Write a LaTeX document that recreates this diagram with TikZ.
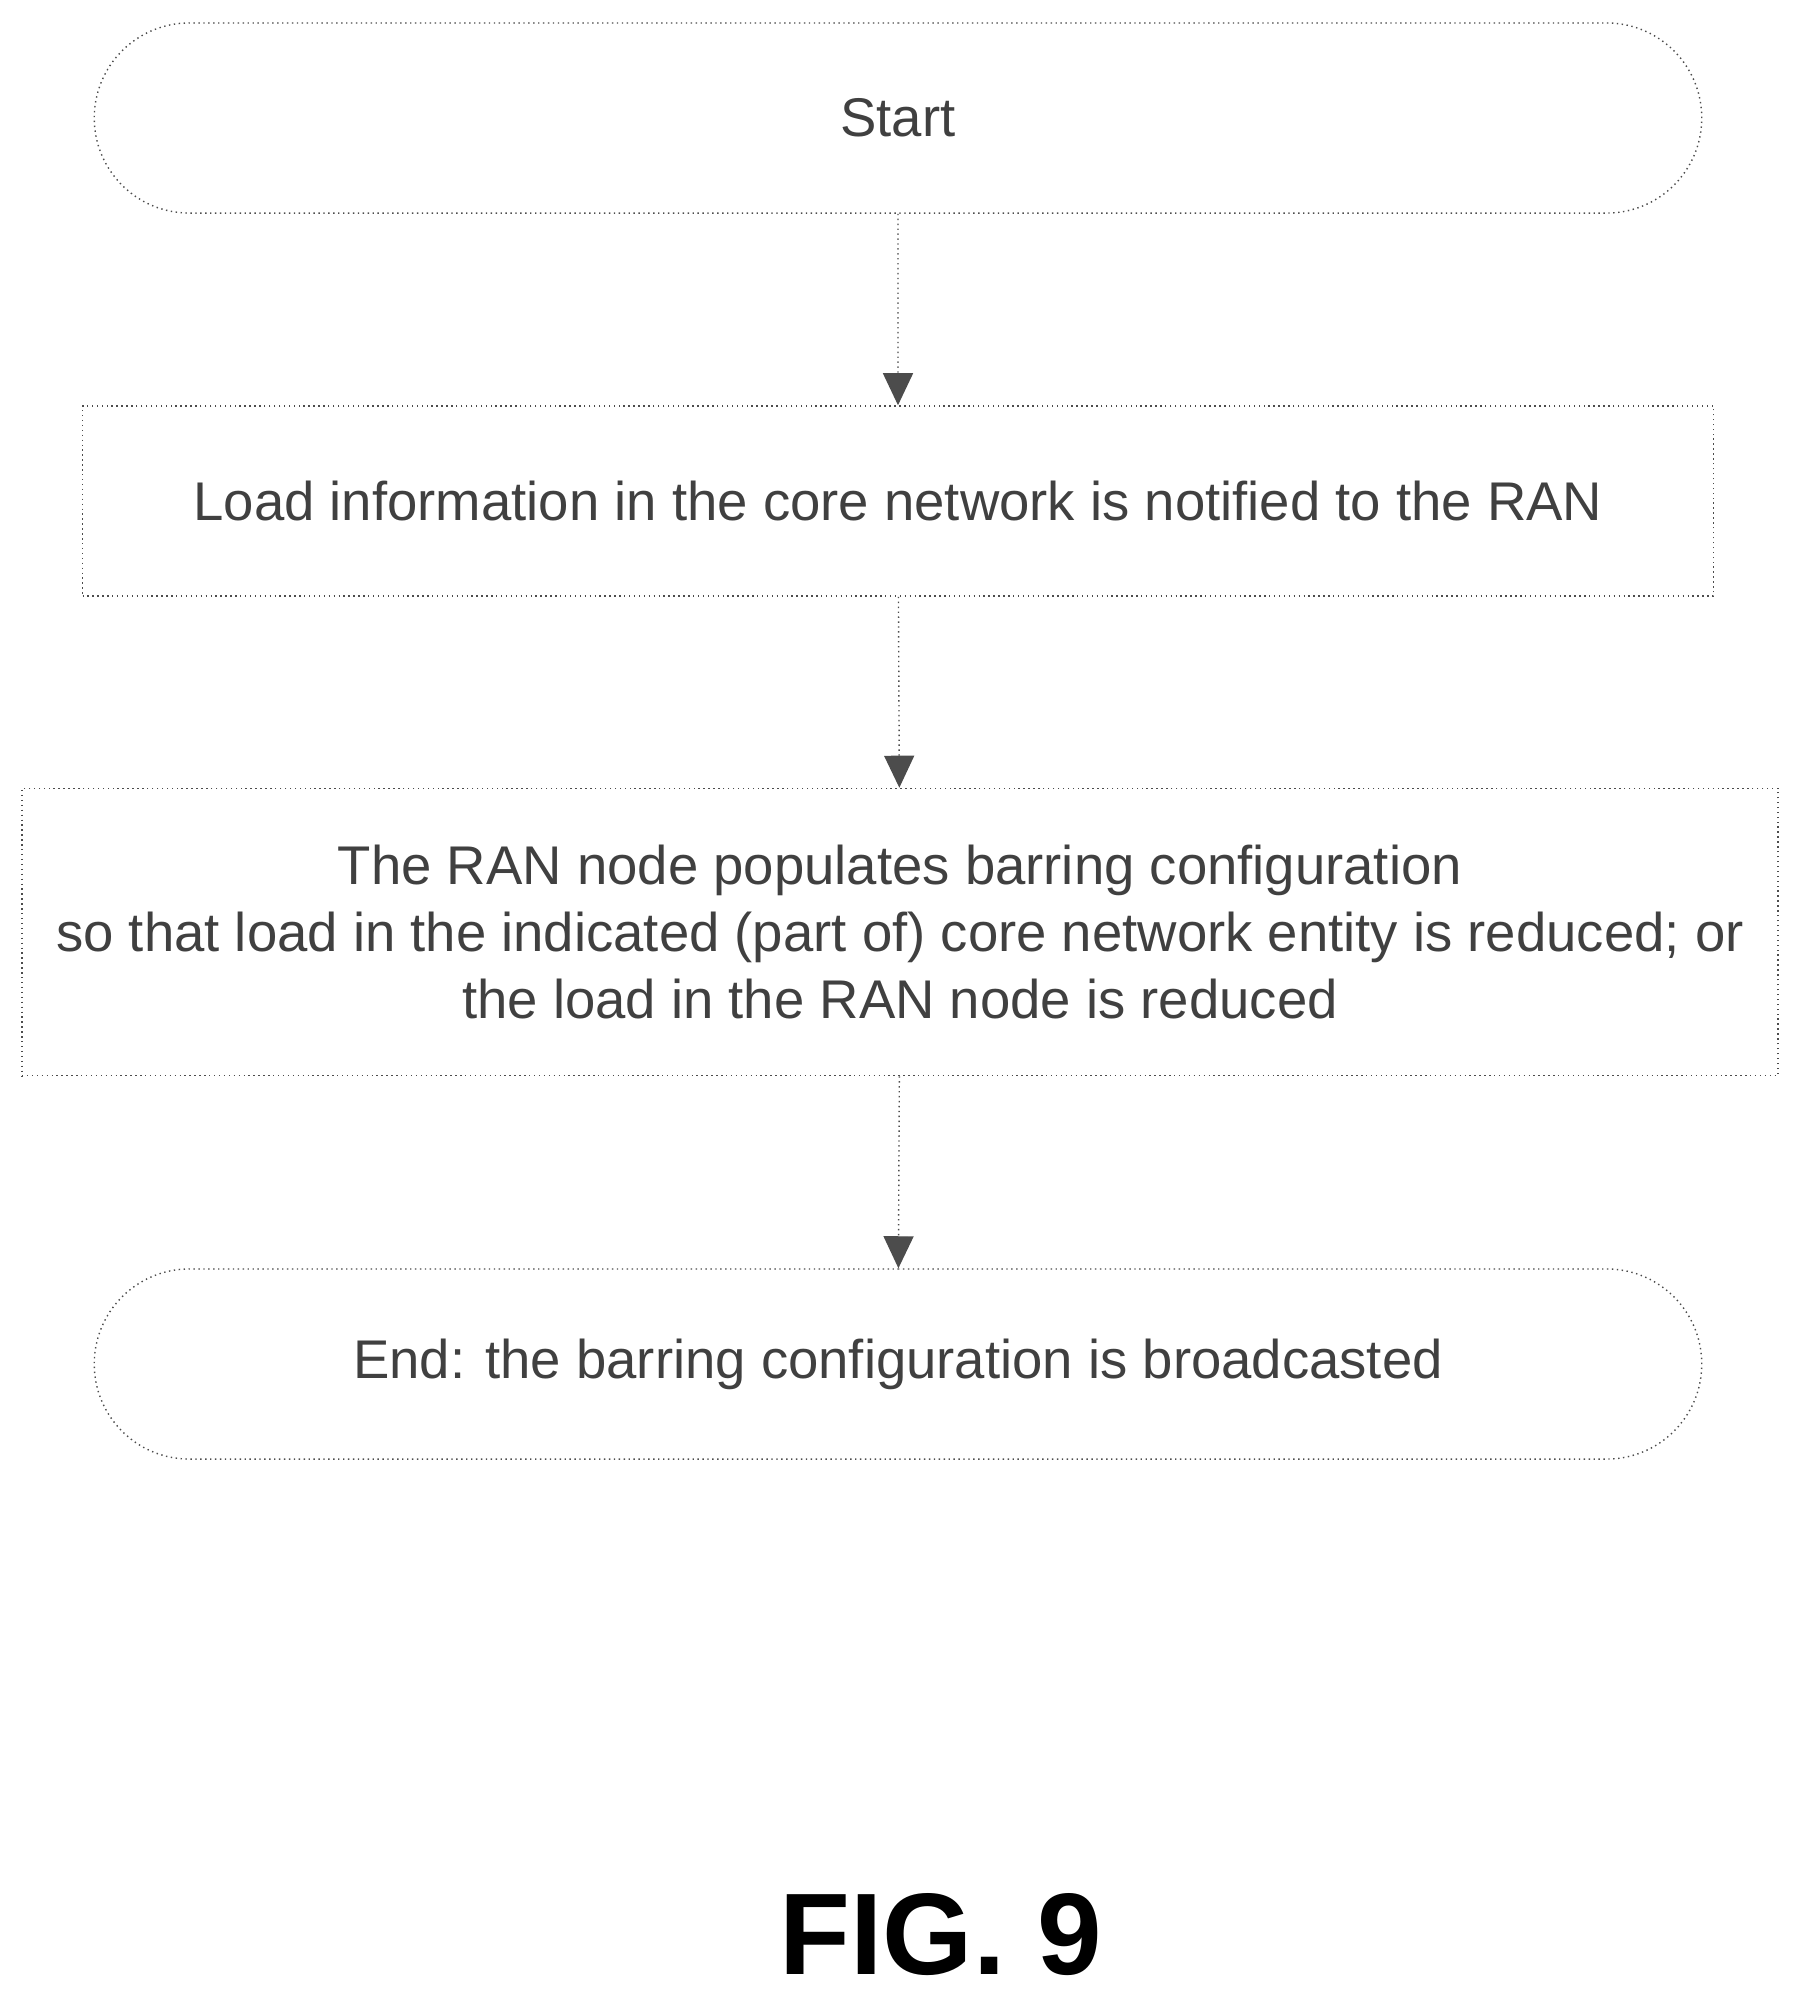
\documentclass[tikz,border=0pt]{standalone}
\usepackage{fontspec}
\setmainfont{Liberation Sans}
\usetikzlibrary{arrows.meta,positioning,shapes.misc}

\begin{document}
\begin{tikzpicture}[x=0.01cm, y=-0.01cm, >={Triangle[length=0.32cm,width=0.3cm]}]
    \tikzset{
        box/.style = {draw=black!70, densely dotted, rectangle, minimum height=1.9cm, minimum width=16.3cm, align=center, font=\fontsize{15.5}{19}\selectfont, text=black!75},
        term/.style = {box, rounded rectangle},
        flow/.style = {draw=black!70, densely dotted, ->}
    }
    \useasboundingbox (0,0) rectangle (1800,2002);

    \node [term] (start) at (898,118) {Start};
    \node [box] (notify) at (898,501) {Load information in the core network is notified to the RAN};
    \node [box, minimum width=17.55cm, minimum height=2.87cm] (populate) at (900,932) {The RAN node populates barring configuration\\so that load in the indicated (part of) core network entity is reduced; or\\the load in the RAN node is reduced};
    \node [term] (finish) at (898,1364) {End: the barring configuration is broadcasted};

    \draw [flow] (start) -- (notify);
    \draw [flow] (notify) -- (populate);
    \draw [flow] (populate) -- (finish);

    % caption
    \node [font=\fontsize{33}{38}\selectfont\bfseries] (caption) at (941,1935) {FIG. 9};
\end{tikzpicture}
\end{document}
